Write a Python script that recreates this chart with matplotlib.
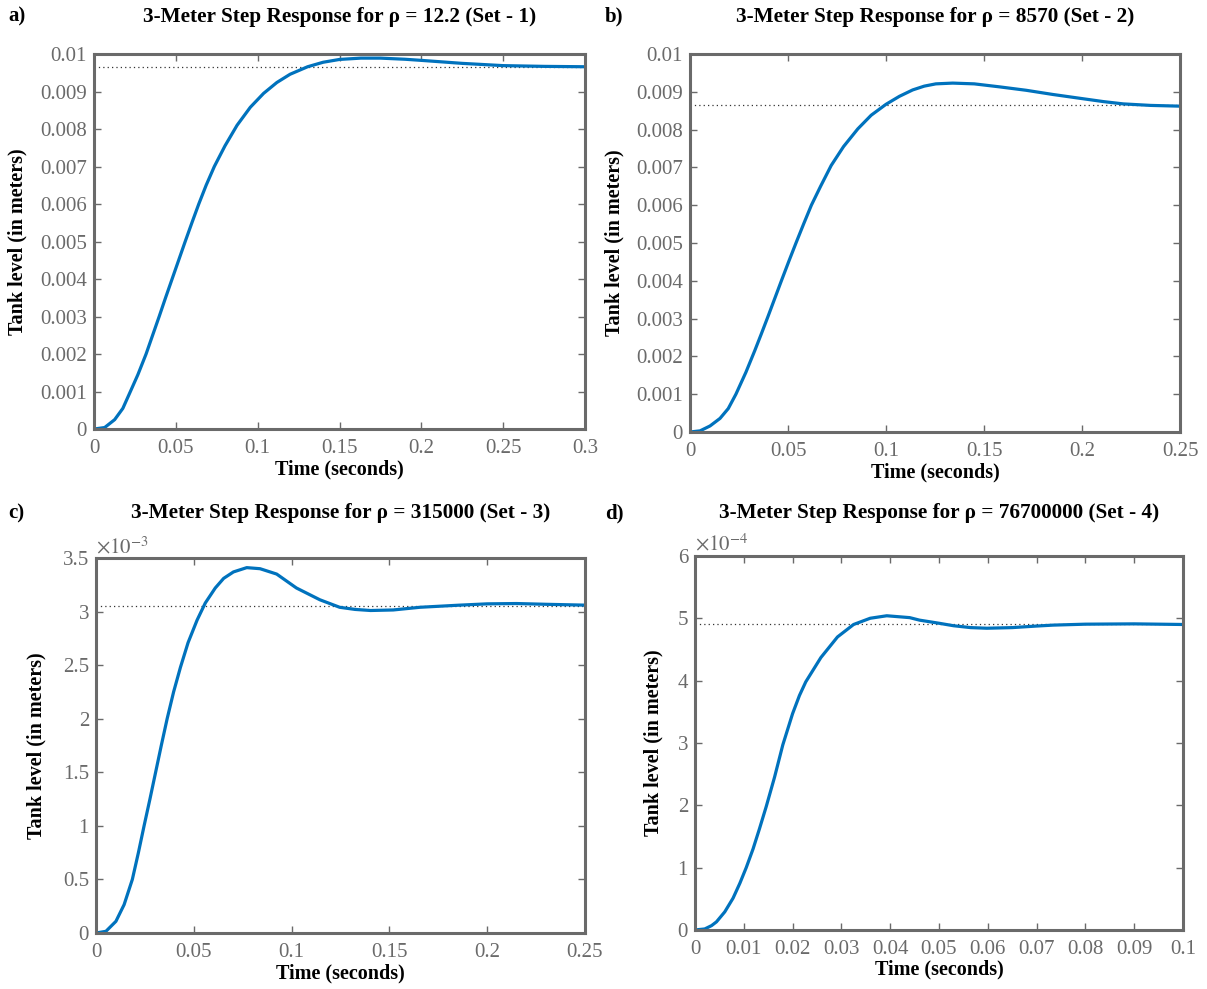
import matplotlib
matplotlib.use("Agg")
from matplotlib import pyplot as plt
from matplotlib.ticker import FuncFormatter
import numpy as np

# values (seconds, meters)
t_set1 = [0, 0.0065, 0.0126, 0.0176, 0.0217, 0.0268, 0.0318, 0.0358, 0.0398, 0.0437,
          0.0477, 0.0517, 0.0557, 0.0598, 0.064, 0.0685, 0.0735, 0.080, 0.0874, 0.0955,
          0.1036, 0.1117, 0.1198, 0.1305, 0.140, 0.150, 0.163, 0.175, 0.19, 0.20,
          0.2125, 0.225, 0.2375, 0.25, 0.275, 0.3]
y_set1 = [0, 0.00004, 0.00025, 0.00055, 0.00095, 0.00145, 0.002, 0.0025, 0.003, 0.0035,
          0.004, 0.0045, 0.005, 0.0055, 0.006, 0.0065, 0.007, 0.00755, 0.0081, 0.00858,
          0.00895, 0.00924, 0.00946, 0.00966, 0.00978, 0.009855, 0.00989, 0.00989,
          0.00986, 0.00983, 0.00979, 0.00975, 0.00972, 0.00969, 0.00967, 0.00966]
ss_set1 = 0.00966

t_set2 = [0, 0.0051, 0.0102, 0.0153, 0.0195, 0.0234, 0.0285, 0.033, 0.0364, 0.0398,
          0.0432, 0.0466, 0.0505, 0.0542, 0.058, 0.0619, 0.0666, 0.072, 0.0783, 0.0856,
          0.0924, 0.1, 0.1068, 0.1136, 0.1195, 0.1254, 0.134, 0.145, 0.158, 0.1715,
          0.185, 0.2, 0.211, 0.221, 0.235, 0.25]
y_set2 = [0, 0.00003, 0.00016, 0.00036, 0.00062, 0.001, 0.00158, 0.00215, 0.0026,
          0.00306, 0.00353, 0.004, 0.00453, 0.00502, 0.00551, 0.006, 0.0065, 0.00705,
          0.00755, 0.00802, 0.00838, 0.00867, 0.00888, 0.00905, 0.00915, 0.00921,
          0.00923, 0.00921, 0.00913, 0.00904, 0.00893, 0.00882, 0.00874, 0.00868,
          0.00864, 0.00862]
ss_set2 = 0.00866

t_set3 = [0, 0.0051, 0.0102, 0.0144, 0.0186, 0.0217, 0.0246, 0.0276, 0.0305, 0.0334,
          0.0364, 0.0397, 0.0432, 0.0471, 0.0517, 0.0559, 0.061, 0.0653, 0.0703, 0.0771,
          0.0839, 0.0924, 0.1025, 0.1145, 0.1246, 0.1325, 0.1404, 0.152, 0.1656, 0.186,
          0.2, 0.215, 0.23, 0.25]
y_set3 = [0, 0.000016, 0.000109, 0.000265, 0.0005, 0.00075, 0.001, 0.00125, 0.0015,
          0.00175, 0.002, 0.00225, 0.00248, 0.00271, 0.00292, 0.00308, 0.00322, 0.00331,
          0.00337, 0.00341, 0.0034, 0.00335, 0.00322, 0.00311, 0.00304, 0.00302,
          0.00301, 0.003015, 0.00304, 0.00306, 0.003072, 0.003075, 0.003068, 0.00306]
ss_set3 = 0.003056

t_set4 = [0, 0.002, 0.0034, 0.0044, 0.0061, 0.0078, 0.0092, 0.0105, 0.0119, 0.0132,
          0.0146, 0.0163, 0.018, 0.020, 0.0214, 0.0227, 0.0258, 0.0292, 0.0325, 0.0359,
          0.0393, 0.044, 0.046, 0.050, 0.053, 0.0565, 0.0598, 0.065, 0.07, 0.0734,
          0.08, 0.09, 0.1]
y_set4 = [0, 0.0000016, 0.000007, 0.000013, 0.000029, 0.000051, 0.000075, 0.0001,
          0.00013, 0.000162, 0.000198, 0.000245, 0.000297, 0.000347, 0.000376,
          0.000398, 0.000437, 0.00047, 0.00049, 0.0005, 0.000504, 0.000501, 0.000497,
          0.000492, 0.000488, 0.000485, 0.000484, 0.000485, 0.0004875, 0.000489,
          0.0004905, 0.000491, 0.00049]
ss_set4 = 0.00049

titles = ["3-Meter Step Response for ρ = 12.2 (Set - 1)",
          "3-Meter Step Response for ρ = 8570 (Set - 2)",
          "3-Meter Step Response for ρ = 315000 (Set - 3)",
          "3-Meter Step Response for ρ = 76700000 (Set - 4)"]
letters = ["a)", "b)", "c)", "d)"]

plt.rcParams['font.family'] = ['Liberation Serif', 'DejaVu Serif']
plt.rcParams['mathtext.fontset'] = 'stix'

GRAY = '#6a6a6a'
BLUE = '#0072BD'

fig = plt.figure(figsize=(12.07, 9.89), dpi=100)

boxes = [[0.0779, 0.5662, 0.4068, 0.3792],
         [0.5717, 0.5632, 0.4060, 0.3822],
         [0.0795, 0.0566, 0.4051, 0.3792],
         [0.5758, 0.0597, 0.4043, 0.3782]]

panels = [
    (t_set1, y_set1, ss_set1, 0.3, np.arange(0, 0.3001, 0.05), 0.01, np.arange(0, 0.01001, 0.001), 1, None, -0.155),
    (t_set2, y_set2, ss_set2, 0.25, np.arange(0, 0.2501, 0.05), 0.01, np.arange(0, 0.01001, 0.001), 1, None, -0.155),
    (t_set3, y_set3, ss_set3, 0.25, np.arange(0, 0.2501, 0.05), 0.0035, np.arange(0, 0.003501, 0.0005), 1e-3, -3, -0.121),
    (t_set4, y_set4, ss_set4, 0.1, np.arange(0, 0.1001, 0.01), 0.0006, np.arange(0, 0.0006001, 0.0001), 1e-4, -4, -0.086),
]

title_y = [0.983, 0.983, 0.481, 0.481]

for i, (t, y, ss, xmax, xt, ymax, yt, scale, expo, ylab_x) in enumerate(panels):
    ax = fig.add_axes(boxes[i])
    ax.plot([0, xmax], [ss, ss], linestyle=(0, (1, 2.5)), color='#333333', linewidth=0.9)
    ax.plot(t, y, color=BLUE, linewidth=2.3, solid_joinstyle='round', solid_capstyle='round')
    ax.set_xlim(0, xmax)
    ax.set_ylim(0, ymax)
    ax.set_xticks(xt)
    ax.set_yticks(yt)
    ax.xaxis.set_major_formatter(FuncFormatter(lambda v, p: '%g' % round(v, 6)))
    ax.yaxis.set_major_formatter(FuncFormatter(lambda v, p, s=scale: '%g' % round(v / s, 6)))
    for sp in ax.spines.values():
        sp.set_color(GRAY)
        sp.set_linewidth(2.2)
    ax.tick_params(direction='in', length=5, width=1, colors=GRAY, labelsize=15,
                   top=True, right=True, pad=5)
    ax.tick_params(axis='x', pad=7)
    ax.set_xlabel('Time (seconds)', fontsize=14.5, fontweight='bold', va='center')
    ax.xaxis.set_label_coords(0.5, -40.0 / (boxes[i][3] * 989))
    ax.set_ylabel('Tank level (in meters)', fontsize=14.5, fontweight='bold', va='center')
    ax.yaxis.set_label_coords(ylab_x, 0.5)
    if expo is not None:
        ax.text(0.0, 1.0, r'$\times10^{%d}$' % expo, transform=ax.transAxes,
                ha='left', va='bottom', fontsize=15, color=GRAY)
    cx = boxes[i][0] + boxes[i][2] / 2
    fig.text(cx, title_y[i], titles[i], ha='center', va='center',
             fontsize=15.3, fontweight='bold')
    lx = 0.007 if i % 2 == 0 else 0.501
    fig.text(lx, title_y[i], letters[i], ha='left', va='center',
             fontsize=15, fontweight='bold')

fig.savefig('out.png', dpi=100)
